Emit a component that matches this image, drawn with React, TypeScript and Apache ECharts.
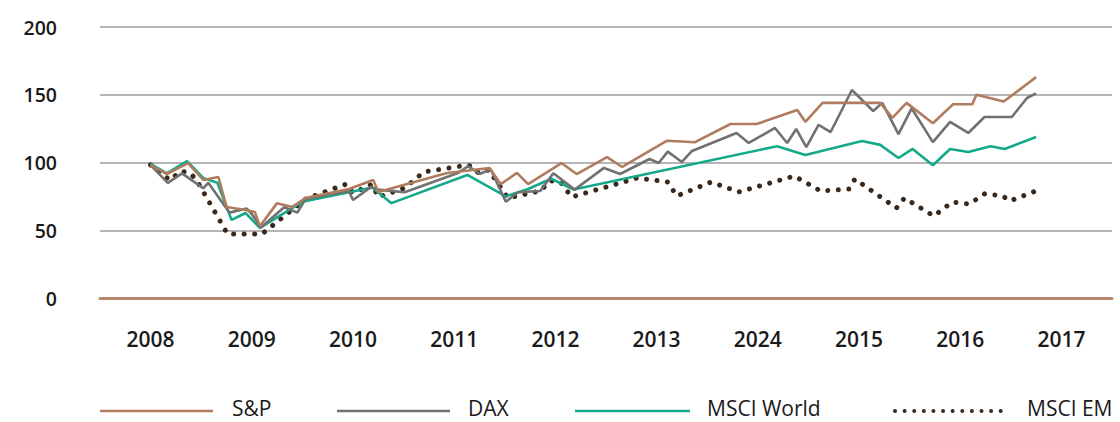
import React, { useEffect, useRef } from "react";
import * as echarts from "echarts";

const yearLabels = ["2008", "2009", "2010", "2011", "2012", "2013", "2024", "2015", "2016", "2017"];

const seriesNames = ["S&P", "DAX", "MSCI World", "MSCI EM"];

const spX = [2008.5, 2008.66, 2008.87, 2009.02, 2009.17, 2009.25, 2009.44, 2009.53, 2009.58, 2009.75, 2009.9, 2010.03, 2010.46, 2010.7, 2010.75, 2011.43, 2011.85, 2011.96, 2012.12, 2012.23, 2012.56, 2012.71, 2013.01, 2013.16, 2013.6, 2013.88, 2014.23, 2014.49, 2014.89, 2014.97, 2015.14, 2015.71, 2015.83, 2015.97, 2016.23, 2016.43, 2016.62, 2016.66, 2016.93, 2017.25];
const spY = [98.2, 91.5, 99.6, 87.1, 89.3, 67.2, 64.9, 63.5, 53, 70, 67.2, 73.8, 80.4, 87.1, 78.2, 92.3, 96, 84, 92.3, 84, 99.6, 91.5, 104, 96.7, 116, 115, 128.4, 128.4, 138.7, 130, 144, 144, 133, 144, 129, 143, 143, 150, 145, 163];

const daxX = [2008.5, 2008.67, 2008.81, 2009.02, 2009.07, 2009.28, 2009.45, 2009.5, 2009.59, 2009.82, 2009.95, 2010.03, 2010.46, 2010.5, 2010.68, 2010.75, 2011.01, 2011.53, 2011.64, 2011.75, 2011.86, 2012.01, 2012.13, 2012.35, 2012.48, 2012.69, 2012.98, 2013.14, 2013.43, 2013.52, 2013.61, 2013.75, 2013.85, 2014.29, 2014.41, 2014.67, 2014.79, 2014.88, 2014.98, 2015.1, 2015.22, 2015.43, 2015.64, 2015.73, 2015.89, 2016.02, 2016.23, 2016.4, 2016.58, 2016.74, 2017.01, 2017.16, 2017.25];
const daxY = [98, 85, 92, 81, 85, 63, 66, 62, 52, 67, 63, 73, 79, 72.3, 82, 80, 78, 92, 97.4, 91.5, 95, 71, 78, 79, 92, 80, 96, 91.5, 102.6, 99.6, 108, 100.4, 108.5, 121.8, 114.4, 125.5, 114.4, 124.7, 111.4, 127.7, 122.5, 153.5, 138, 144, 121, 140, 115, 130, 121.8, 133.6, 133.6, 147.6, 151];

const worldX = [2008.5, 2008.66, 2008.86, 2009.02, 2009.16, 2009.3, 2009.44, 2009.58, 2010.0, 2010.69, 2010.88, 2011.63, 2012.01, 2012.23, 2012.46, 2012.68, 2014.69, 2014.97, 2015.53, 2015.71, 2015.89, 2016.03, 2016.23, 2016.4, 2016.58, 2016.8, 2016.94, 2017.25];
const worldY = [99, 92, 101, 88.6, 85, 57.6, 62.7, 51.7, 71, 81.5, 70, 90.8, 75, 80.4, 88, 80, 112, 105.5, 115.9, 113, 103.3, 110, 98, 110, 107.7, 112, 110, 118.8];

const emX = [2008.5, 2008.69, 2008.8, 2008.89, 2008.96, 2009.26, 2009.6, 2010.03, 2010.43, 2010.5, 2010.69, 2010.75, 2011.01, 2011.2, 2011.64, 2011.74, 2011.84, 2011.93, 2012.03, 2012.35, 2012.45, 2012.55, 2012.66, 2013.31, 2013.61, 2013.7, 2014.04, 2014.31, 2014.86, 2015.12, 2015.4, 2015.46, 2015.87, 2015.95, 2016.24, 2016.42, 2016.59, 2016.74, 2016.92, 2016.99, 2017.25];
const emY = [98.2, 87, 93.7, 92.3, 86.3, 47.2, 47.2, 73, 84, 77.5, 84, 74.5, 81.2, 93, 98.2, 92.3, 94.5, 84.9, 73.8, 79, 86.5, 85.6, 74.5, 88.6, 85.6, 75.3, 85.6, 78.2, 90, 79, 80.4, 87.8, 66.4, 73.8, 60.5, 70.8, 69.4, 76.8, 75.3, 71.6, 79];

const yTicks = { min: 0, max: 200, interval: 50 };

const COLORS = ["#b07c5e", "#717171", "#14a98a", "#3a281b"];

const zip = (xs: number[], ys: number[]) => xs.map((x, i) => [x, ys[i]]);

const FONT = "'Open Sans', sans-serif";

// manual legend layout (positions only)
const LEGEND_LINE_Y = 411;
const LEGEND_TEXT_Y = 408;
const legendLayout = [
  { x1: 100, x2: 213, tx: 232 },
  { x1: 337, x2: 450, tx: 468 },
  { x1: 575, x2: 690, tx: 707 },
  { x1: 893, x2: 1010, tx: 1027 },
];

export default function App() {
  const ref = useRef<HTMLDivElement>(null);
  useEffect(() => {
    if (!ref.current) return;
    const chart = echarts.init(ref.current, null, { renderer: "svg" });

    const legendGraphics: any[] = [];
    seriesNames.forEach((name, i) => {
      const L = legendLayout[i];
      const dotted = i === 3;
      legendGraphics.push({
        type: "line",
        shape: { x1: L.x1 + (dotted ? 2 : 0), y1: LEGEND_LINE_Y, x2: L.x2, y2: LEGEND_LINE_Y },
        style: dotted
          ? { stroke: COLORS[i], lineWidth: 4, lineDash: [0.01, 9.6], lineCap: "round" }
          : { stroke: COLORS[i], lineWidth: 2.6 },
        silent: true,
      });
      legendGraphics.push({
        type: "text",
        x: L.tx,
        y: LEGEND_TEXT_Y,
        style: {
          text: name,
          fill: "#1a1a1a",
          font: `400 21px ${FONT}`,
          verticalAlign: "middle",
        },
        silent: true,
      });
    });

    chart.setOption({
      animation: false,
      backgroundColor: "#ffffff",
      grid: { left: 100, right: 8, top: 27, bottom: 124, containLabel: false },
      xAxis: [
        {
          type: "category",
          data: yearLabels,
          boundaryGap: true,
          axisLine: { show: true, lineStyle: { color: "#b8866a", width: 3 } },
          axisTick: { show: false },
          splitLine: { show: false },
          axisLabel: { margin: 30, color: "#1a1a1a", fontSize: 21, fontWeight: 600, fontFamily: FONT },
        },
        { type: "value", min: 2008, max: 2018, show: false },
      ],
      yAxis: {
        type: "value",
        min: yTicks.min,
        max: yTicks.max,
        interval: yTicks.interval,
        axisLine: { show: false },
        axisTick: { show: false },
        splitLine: { show: true, lineStyle: { color: "#9c9c9c", width: 1.6 } },
        axisLabel: { margin: 43, color: "#1a1a1a", fontSize: 19.5, fontWeight: 600, fontFamily: FONT },
      },
      graphic: legendGraphics,
      series: [
        {
          name: seriesNames[0],
          type: "line",
          xAxisIndex: 1,
          symbol: "none",
          data: zip(spX, spY),
          lineStyle: { color: COLORS[0], width: 2.6 },
          itemStyle: { color: COLORS[0] },
          z: 4,
        },
        {
          name: seriesNames[1],
          type: "line",
          xAxisIndex: 1,
          symbol: "none",
          data: zip(daxX, daxY),
          lineStyle: { color: COLORS[1], width: 2.6 },
          itemStyle: { color: COLORS[1] },
          z: 3,
        },
        {
          name: seriesNames[2],
          type: "line",
          xAxisIndex: 1,
          symbol: "none",
          data: zip(worldX, worldY),
          lineStyle: { color: COLORS[2], width: 2.6 },
          itemStyle: { color: COLORS[2] },
          z: 2,
        },
        {
          name: seriesNames[3],
          type: "line",
          xAxisIndex: 1,
          symbol: "none",
          data: zip(emX, emY),
          lineStyle: { color: COLORS[3], width: 5, type: [0.01, 10.5], cap: "round" },
          itemStyle: { color: COLORS[3] },
          z: 1,
        },
      ],
    });
    return () => chart.dispose();
  }, []);
  return (
    <div
      ref={ref}
      style={{ position: "fixed", left: 0, top: 0, width: 1120, height: 422, background: "#fff" }}
    />
  );
}
